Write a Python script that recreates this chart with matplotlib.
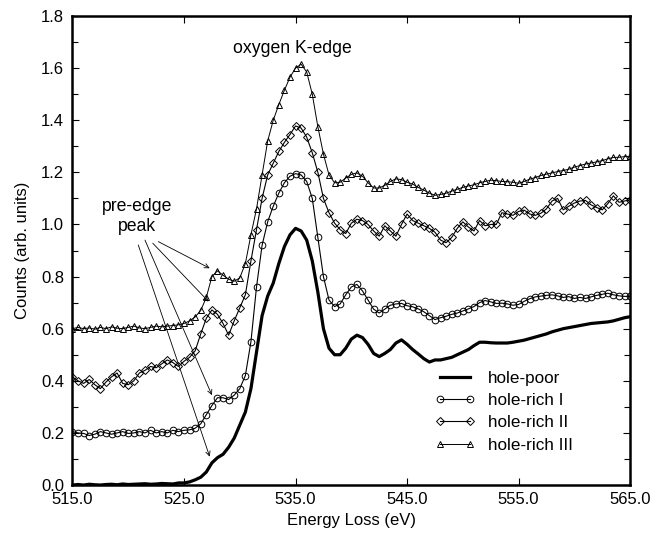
import numpy as np
import matplotlib
matplotlib.use("Agg")
import matplotlib.pyplot as plt

plt.rcParams['font.family'] = ['Liberation Sans', 'DejaVu Sans']

# Energy grid (eV), 0.5 eV steps 515..565
energy = np.arange(515.0, 565.01, 0.5)

hole_poor = [
    0.0, 0.002, 0.0, 0.003, 0.001, 0.0, 0.002, 0.003, 0.001, 0.004,
    0.002, 0.003, 0.004, 0.005, 0.003, 0.004, 0.006, 0.005, 0.004, 0.008,
    0.008, 0.012, 0.02, 0.03, 0.05, 0.085, 0.105, 0.118, 0.145, 0.18,
    0.23, 0.28, 0.37, 0.51, 0.65, 0.725, 0.775, 0.85, 0.915, 0.96,
    0.985, 0.975, 0.94, 0.86, 0.74, 0.6, 0.525, 0.5, 0.5, 0.525,
    0.56, 0.575, 0.566, 0.54, 0.505, 0.493, 0.505, 0.52, 0.545, 0.557,
    0.54, 0.52, 0.503, 0.485, 0.472, 0.48, 0.48, 0.485, 0.49, 0.5,
    0.51, 0.52, 0.535, 0.548, 0.548, 0.546, 0.545, 0.545, 0.545, 0.548,
    0.552, 0.556, 0.562, 0.568, 0.574, 0.58, 0.588, 0.594, 0.6, 0.604,
    0.608, 0.612, 0.616, 0.62, 0.622, 0.624, 0.626, 0.63, 0.636, 0.642,
    0.646,
]

hole_rich_1 = [
    0.205, 0.2, 0.198, 0.19, 0.195, 0.205, 0.2, 0.195, 0.2, 0.205,
    0.198, 0.2, 0.205, 0.2, 0.21, 0.2, 0.205, 0.2, 0.21, 0.205,
    0.21, 0.212, 0.218, 0.235, 0.27, 0.305, 0.335, 0.335, 0.328, 0.345,
    0.37, 0.42, 0.55, 0.76, 0.92, 1.01, 1.07, 1.12, 1.16, 1.185,
    1.195, 1.19, 1.165, 1.1, 0.95, 0.8, 0.71, 0.685, 0.695, 0.73,
    0.76, 0.77, 0.745, 0.71, 0.675, 0.66, 0.675, 0.69, 0.695, 0.697,
    0.688, 0.684, 0.676, 0.665, 0.65, 0.635, 0.642, 0.648, 0.655, 0.66,
    0.668, 0.676, 0.685, 0.7, 0.708, 0.703, 0.697, 0.698, 0.695, 0.69,
    0.693, 0.705, 0.715, 0.722, 0.725, 0.728, 0.73, 0.726, 0.72, 0.723,
    0.716, 0.72, 0.716, 0.722, 0.728, 0.732, 0.736, 0.73, 0.726, 0.724,
    0.724,
]

hole_rich_2 = [
    0.415, 0.4, 0.39, 0.405, 0.385, 0.37, 0.395, 0.415, 0.43, 0.39,
    0.385, 0.4, 0.43, 0.44, 0.455, 0.45, 0.465, 0.48, 0.47, 0.455,
    0.475, 0.49, 0.515, 0.58, 0.64, 0.672, 0.655, 0.62, 0.575, 0.63,
    0.68, 0.73, 0.86, 0.98, 1.1, 1.19, 1.235, 1.28, 1.315, 1.345,
    1.378, 1.37, 1.335, 1.275, 1.2, 1.1, 1.045, 1.005, 0.98, 0.965,
    1.005, 1.02, 1.015, 1.0, 0.975, 0.955, 0.995, 0.975, 0.955, 1.0,
    1.04, 1.015, 1.005, 0.995, 0.985, 0.97, 0.94, 0.93, 0.95, 0.985,
    1.01, 0.99, 0.975, 1.015, 0.995, 1.0, 1.0, 1.045, 1.04, 1.035,
    1.05, 1.055, 1.04, 1.035, 1.043, 1.06, 1.09, 1.1, 1.056, 1.07,
    1.082, 1.09, 1.092, 1.075, 1.065, 1.056, 1.08, 1.11, 1.085, 1.09,
    1.095,
]

hole_rich_3 = [
    0.6, 0.605, 0.6, 0.603, 0.598, 0.605, 0.6, 0.607, 0.602, 0.6,
    0.605, 0.61, 0.603, 0.6, 0.605, 0.61, 0.607, 0.61, 0.612, 0.615,
    0.62, 0.63, 0.645, 0.67, 0.72, 0.8, 0.822, 0.805, 0.79, 0.782,
    0.795, 0.85, 0.96, 1.06, 1.19, 1.32, 1.4, 1.46, 1.515, 1.565,
    1.6, 1.615, 1.585, 1.5, 1.375, 1.27, 1.19, 1.16, 1.162, 1.178,
    1.192, 1.198, 1.185, 1.16, 1.14, 1.14, 1.15, 1.165, 1.175, 1.172,
    1.162, 1.155, 1.142, 1.132, 1.12, 1.112, 1.115, 1.12, 1.128, 1.135,
    1.142, 1.148, 1.152, 1.16, 1.165, 1.17, 1.168, 1.165, 1.164, 1.162,
    1.158, 1.165, 1.174, 1.18, 1.188, 1.193, 1.198, 1.203, 1.207, 1.212,
    1.22, 1.226, 1.232, 1.236, 1.24, 1.245, 1.252, 1.257, 1.258, 1.26,
    1.262,
]

labels = ["hole-poor", "hole-rich I", "hole-rich II", "hole-rich III"]
x_ticks = [515.0, 525.0, 535.0, 545.0, 555.0, 565.0]
y_ticks = [0.0, 0.2, 0.4, 0.6, 0.8, 1.0, 1.2, 1.4, 1.6, 1.8]

# arrow end points (pre-edge peak on each curve) and start points
arrow_tips = [(527.3, 0.832), (527.2, 0.704), (527.5, 0.345), (527.3, 0.109)]
arrow_starts = [(522.7, 0.934), (522.2, 0.928), (521.5, 0.94), (520.9, 0.921)]

fig = plt.figure(figsize=(6.53, 5.33), dpi=100)
ax = fig.add_axes([0.111, 0.090, 0.854, 0.880])

ax.plot(energy, hole_poor, color='black', lw=2.3, label=labels[0])
ax.plot(energy, hole_rich_1, color='black', lw=0.8, marker='o', ms=4.8,
        mfc='none', mec='black', mew=0.7, label=labels[1])
ax.plot(energy, hole_rich_2, color='black', lw=0.8, marker='D', ms=3.7,
        mfc='none', mec='black', mew=0.7, label=labels[2])
ax.plot(energy, hole_rich_3, color='black', lw=0.7, marker='^', ms=4.2,
        mfc='none', mec='black', mew=0.7, label=labels[3])

ax.set_xlim(515, 565)
ax.set_ylim(0, 1.8)
ax.set_xticks(x_ticks)
ax.set_xticklabels([f"{v:.1f}" for v in x_ticks])
ax.set_yticks(y_ticks)
ax.set_yticklabels([f"{v:.1f}" for v in y_ticks])
ax.set_yticks(np.arange(0.1, 1.8, 0.2), minor=True)
ax.tick_params(which='both', direction='in', top=True, right=True,
               labelsize=12, width=0.8)
ax.tick_params(axis='x', pad=5)
ax.tick_params(axis='y', pad=6)
ax.tick_params(which='major', length=5)
ax.tick_params(which='minor', length=4)
for s in ax.spines.values():
    s.set_linewidth(1.8)

ax.set_xlabel("Energy Loss (eV)", fontsize=12, labelpad=4)
ax.set_ylabel("Counts (arb. units)", fontsize=12, labelpad=8)

ax.text(534.7, 1.674, "oxygen K-edge", ha='center', va='center', fontsize=12.7)
ax.text(520.8, 1.03, "pre-edge\npeak", ha='center', va='center', fontsize=12.7,
        linespacing=1.25)
for (xs, ys), (xt, yt) in zip(arrow_starts, arrow_tips):
    ax.annotate("", xy=(xt, yt), xytext=(xs, ys),
                arrowprops=dict(arrowstyle='->', lw=0.6, color='black',
                                shrinkA=0, shrinkB=0, mutation_scale=8))

ax.legend(loc='upper left', bbox_to_anchor=(0.650, 0.243), frameon=False,
          fontsize=12.3, numpoints=2, handlelength=2.35, handletextpad=0.75,
          labelspacing=0.42, borderpad=0, borderaxespad=0)

fig.savefig("out.png", dpi=100)
